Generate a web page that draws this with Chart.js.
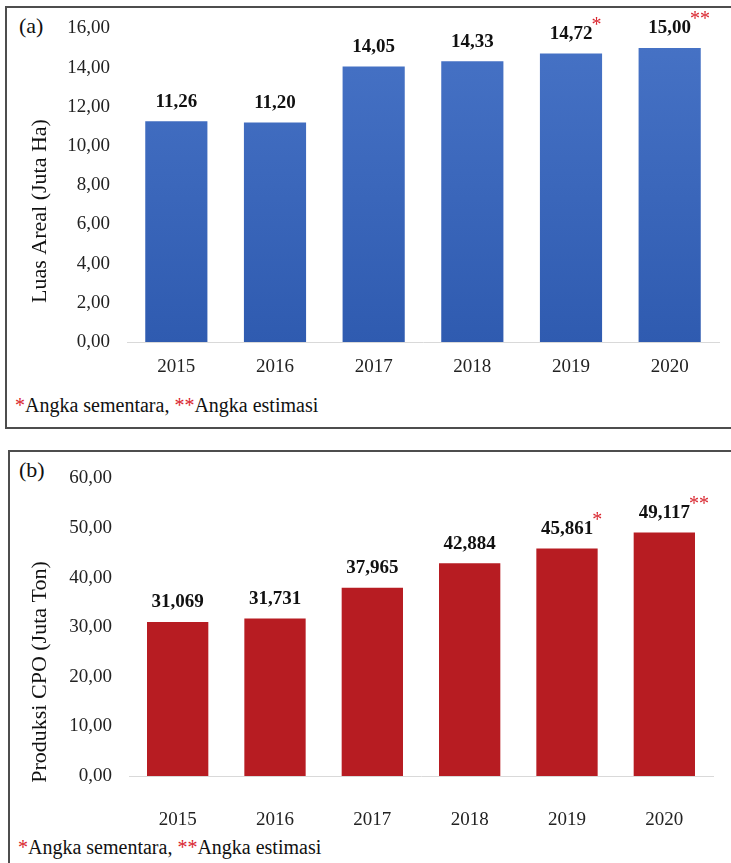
<!DOCTYPE html>
<html>
<head>
<meta charset="utf-8">
<script src="https://cdn.jsdelivr.net/npm/chart.js@4"></script>
<style>
  body { margin: 0; background: #fff; }
  #page { position: relative; width: 731px; height: 863px; overflow: hidden; font-family: "Times New Roman", "Liberation Serif", "DejaVu Serif", serif; }
  .panel { position: absolute; border: 2px solid #4d4d4d; box-sizing: border-box; }
  .note { position: absolute; font-size: 20px; color: #111; white-space: nowrap; }
  .note span { color: #d9252e; }
  .tag { position: absolute; font-size: 22px; color: #111; }
  canvas { position: absolute; left: 0; }
</style>
</head>
<body>
<div id="page">
  <div class="panel" style="left:5px; top:6px; width:740px; height:423px;"></div>
  <div class="panel" style="left:8px; top:450px; width:740px; height:430px;"></div>
  <div class="tag" style="left:19px; top:13px;">(a)</div>
  <div class="tag" style="left:19px; top:457px;">(b)</div>
  <div class="note" style="left:15px; top:394px;"><span>*</span>Angka sementara, <span>**</span>Angka estimasi</div>
  <div class="note" style="left:18px; top:836px;"><span>*</span>Angka sementara, <span>**</span>Angka estimasi</div>
  <div style="position:absolute; left:0; top:0; width:731px; height:389px;"><canvas id="chartA"></canvas></div>
  <div style="position:absolute; left:0; top:450px; width:731px; height:390px;"><canvas id="chartB"></canvas></div>
</div>
<script>
const years = ['2015', '2016', '2017', '2018', '2019', '2020'];
const luasAreal = [11.26, 11.20, 14.05, 14.33, 14.72, 15.00];
const produksiCPO = [31.069, 31.731, 37.965, 42.884, 45.861, 49.117];
const marks = ['', '', '', '', '*', '**'];

const FONT = '"Times New Roman", "Liberation Serif", "DejaVu Serif", serif';
const comma = (v, d) => v.toFixed(d).replace('.', ',');

// value labels above the bars, with red asterisks
const barLabels = {
    id: 'barLabels',
    afterDatasetsDraw(chart, args, opts) {
        const ctx = chart.ctx;
        const values = chart.data.datasets[0].data;
        chart.getDatasetMeta(0).data.forEach((bar, i) => {
            const txt = comma(values[i], opts.digits);
            ctx.save();
            ctx.font = 'bold 19px ' + FONT;
            ctx.fillStyle = '#111';
            ctx.textAlign = 'center';
            ctx.textBaseline = 'bottom';
            ctx.fillText(txt, bar.x, bar.y - 10);
            if (marks[i]) {
                const w = ctx.measureText(txt).width;
                ctx.font = '20px ' + FONT;
                ctx.fillStyle = '#d9252e';
                ctx.textAlign = 'left';
                ctx.fillText(marks[i], bar.x + w / 2 - 1, bar.y - 18);
            }
            ctx.restore();
        });
        // axis title
        ctx.save();
        ctx.translate(40, opts.titleY);
        ctx.rotate(-Math.PI / 2);
        ctx.font = '22px ' + FONT;
        ctx.fillStyle = '#111';
        ctx.textAlign = 'center';
        ctx.textBaseline = 'middle';
        ctx.fillText(opts.title, 0, 0);
        ctx.restore();
    }
};

function makeChart(id, values, color, max, step, digits, title, titleY, padTop, yWidth, padRight, xPad, xHeight) {
    return new Chart(document.getElementById(id), {
        type: 'bar',
        data: {
            labels: years,
            datasets: [{
                data: values,
                backgroundColor: color,
                barPercentage: 0.63,
                categoryPercentage: 1
            }]
        },
        options: {
            responsive: true,
            maintainAspectRatio: false,
            animation: false,
            layout: { padding: { top: padTop, right: padRight, left: 0, bottom: 0 } },
            plugins: {
                legend: { display: false },
                tooltip: { enabled: false },
                barLabels: { digits: digits, title: title, titleY: titleY }
            },
            scales: {
                x: {
                    grid: { display: false, drawTicks: false },
                    border: { color: '#d9d9d9' },
                    ticks: { color: '#222', padding: xPad, font: { family: FONT, size: 19 } },
                    afterFit: s => { s.height = xHeight; }
                },
                y: {
                    min: 0, max: max,
                    grid: { display: false, drawTicks: false },
                    border: { display: false },
                    ticks: {
                        stepSize: step, color: '#222', padding: 17,
                        font: { family: FONT, size: 19 },
                        callback: v => comma(v, 2)
                    },
                    afterFit: s => { s.width = yWidth; }
                }
            }
        },
        plugins: [barLabels]
    });
}

function ctxGrad(c) {
    const area = c.chart.chartArea;
    if (!area) return '#3d68bd';
    const g = c.chart.ctx.createLinearGradient(0, area.top, 0, area.bottom);
    g.addColorStop(0, '#4773c6');
    g.addColorStop(1, '#2f5bb0');
    return g;
}

const chartA = makeChart('chartA', luasAreal, ctxGrad, 16, 2, 2, 'Luas Areal (Juta Ha)', 211, 27, 127, 12, 14, 47);
const chartB = makeChart('chartB', produksiCPO, '#b71c22', 60, 10, 3, 'Produksi CPO (Juta Ton)', 222, 23, 129, 18, 33, 64);
</script>
</body>
</html>
